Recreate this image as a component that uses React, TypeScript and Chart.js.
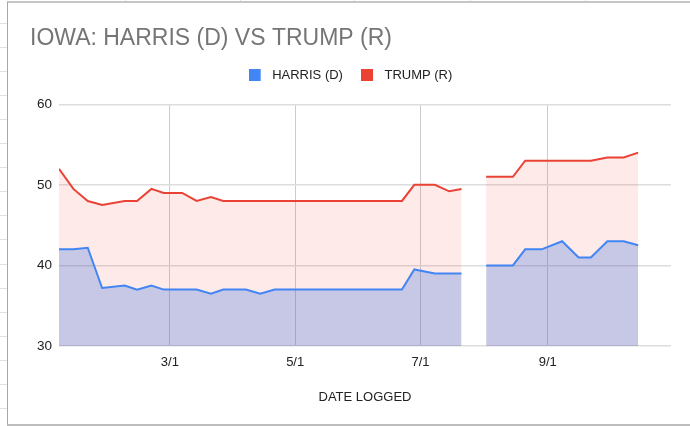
import React, { useEffect, useRef } from "react";
import { Chart, registerables } from "chart.js";

Chart.register(...registerables);

// ---- data ----
const dates = [
  "1/7", "1/14", "1/21", "1/28", "2/8", "2/14", "2/21", "2/27",
  "3/7", "3/14", "3/21", "3/27", "4/7", "4/14", "4/21", "4/28",
  "5/5", "5/12", "5/19", "5/26", "6/2", "6/9", "6/16", "6/22",
  "6/28", "7/8", "7/15", "7/21", "7/28",
  "8/2", "8/15", "8/21", "8/29", "9/8", "9/16", "9/22", "9/30",
  "10/8", "10/15",
];
const harris: (number | null)[] = [
  42, 42, 42.2, 37.2, 37.5, 37, 37.5, 37,
  37, 37, 36.5, 37, 37, 36.5, 37, 37,
  37, 37, 37, 37, 37, 37, 37, 37,
  39.5, 39, 39, 39, null,
  40, 40, 42, 42, 43, 41, 41, 43,
  43, 42.5,
];
const trump: (number | null)[] = [
  52, 49.5, 48, 47.5, 48, 48, 49.5, 49,
  49, 48, 48.5, 48, 48, 48, 48, 48,
  48, 48, 48, 48, 48, 48, 48, 48,
  50, 50, 49.2, 49.5, null,
  51, 51, 53, 53, 53, 53, 53, 53.4,
  53.4, 54,
];
const xTickLabels = ["3/1", "5/1", "7/1", "9/1"];
const xRange = ["1/7", "10/31"];
const yMin = 30;
const yMax = 60;
const yStep = 10;

const MONTH_START = [0, 31, 60, 91, 121, 152, 182, 213, 244, 274, 305, 335];
function dayOfYear(md: string): number {
  const [m, d] = md.split("/").map(Number);
  return MONTH_START[m - 1] + d;
}

const FONT = "'Liberation Sans', Arial, Helvetica, sans-serif";
const BLUE = "#4285F4";
const RED = "#EA4335";

function legendSwatch(color: string): HTMLCanvasElement {
  const c = document.createElement("canvas");
  c.width = 17;
  c.height = 12;
  const ctx = c.getContext("2d")!;
  ctx.fillStyle = color;
  ctx.fillRect(0, 0, 12, 12);
  return c;
}

export default function App() {
  const ref = useRef<HTMLCanvasElement>(null);

  useEffect(() => {
    const xs = dates.map(dayOfYear);
    const tickMap = new Map<number, string>();
    xTickLabels.forEach((l) => tickMap.set(dayOfYear(l), l));
    const swatches = [legendSwatch(BLUE), legendSwatch(RED)];

    const chart = new Chart(ref.current!, {
      type: "line",
      data: {
        datasets: [
          {
            label: "HARRIS (D)",
            data: xs.map((x, i) => ({ x, y: harris[i] })) as any,
            borderColor: BLUE,
            backgroundColor: "rgba(60,110,220,0.28)",
            fill: "start",
            borderWidth: 2,
            pointRadius: 0,
            tension: 0,
            spanGaps: false,
          },
          {
            label: "TRUMP (R)",
            data: xs.map((x, i) => ({ x, y: trump[i] })) as any,
            borderColor: RED,
            backgroundColor: "rgba(234,67,53,0.11)",
            fill: "start",
            borderWidth: 2,
            pointRadius: 0,
            tension: 0,
            spanGaps: false,
          },
        ],
      },
      options: {
        animation: false,
        responsive: false,
        devicePixelRatio: 1,
        layout: { padding: { top: 27.5, left: 30, right: 19, bottom: 0 } },
        plugins: {
          title: {
            display: true,
            text: "IOWA: HARRIS (D) VS TRUMP (R)",
            align: "start",
            color: "#757575",
            font: { family: FONT, size: 23, weight: "normal" as any, lineHeight: 1 },
            padding: { top: 0, bottom: 0 },
          },
          subtitle: {
            display: true,
            text: "",
            position: "top",
            weight: 500,
            font: { family: FONT, size: 12.8, lineHeight: 1 },
            padding: 0,
          } as any,
          legend: {
            display: true,
            position: "top",
            align: "center",
            labels: {
              usePointStyle: true,
              pointStyleWidth: 17,
              boxHeight: 12,
              padding: 18,
              color: "#222222",
              font: { family: FONT, size: 13 },
              generateLabels: (ch: any) =>
                Chart.defaults.plugins.legend.labels
                  .generateLabels(ch)
                  .map((l: any, i: number) => ({ ...l, pointStyle: swatches[i], lineWidth: 0 })),
            },
          },
          tooltip: { enabled: false },
        },
        scales: {
          x: {
            type: "linear",
            min: dayOfYear(xRange[0]),
            max: dayOfYear(xRange[1]),
            afterBuildTicks: (scale: any) => {
              scale.ticks = xTickLabels.map((l) => ({ value: dayOfYear(l) }));
            },
            afterFit: (scale: any) => {
              scale.height = 80;
            },
            ticks: {
              autoSkip: false,
              maxRotation: 0,
              padding: 9,
              color: "#222222",
              font: { family: FONT, size: 13 },
              callback: (v: any) => tickMap.get(Number(v)) ?? "",
            },
            grid: { color: "#cccccc", lineWidth: 1, drawTicks: false },
            border: { display: false },
            title: {
              display: true,
              text: "DATE LOGGED",
              color: "#222222",
              font: { family: FONT, size: 13 },
              padding: { top: 0, bottom: 21 },
            },
          },
          y: {
            min: yMin,
            max: yMax,
            afterFit: (scale: any) => {
              scale.width = 29;
            },
            ticks: {
              stepSize: yStep,
              padding: 7,
              color: "#222222",
              font: { family: FONT, size: 13.5 },
            },
            grid: { color: "#dddddd", lineWidth: 1.5, drawTicks: false },
            border: { display: false },
          },
        },
      },
    } as any);
    return () => chart.destroy();
  }, []);

  const rowLines = Array.from({ length: 17 }, (_, k) => 23 + k * 24.05);
  const colLines = [125, 240, 354, 470, 585];

  return (
    <div
      style={{
        position: "absolute",
        left: 0,
        top: 0,
        width: 690,
        height: 426,
        overflow: "hidden",
        background: "#ffffff",
      }}
    >
      {rowLines.map((y, i) => (
        <div
          key={"r" + i}
          style={{ position: "absolute", left: 0, top: Math.round(y), width: 7, height: 1, background: "#e2e2e2" }}
        />
      ))}
      {colLines.map((x, i) => (
        <div
          key={"c" + i}
          style={{ position: "absolute", left: x, top: 0, width: 1, height: 2, background: "#e2e2e2" }}
        />
      ))}
      <div
        style={{
          position: "absolute",
          left: 7,
          top: 1,
          width: 700,
          height: 421,
          background: "#ffffff",
          borderLeft: "1px solid #a8a8a8",
          borderTop: "2px solid #c6c6c6",
          borderBottom: "2px solid #bdbdbd",
        }}
      />
      <canvas
        ref={ref}
        width={690}
        height={426}
        style={{ position: "absolute", left: 0, top: 0, width: 690, height: 426, display: "block" }}
      />
    </div>
  );
}
